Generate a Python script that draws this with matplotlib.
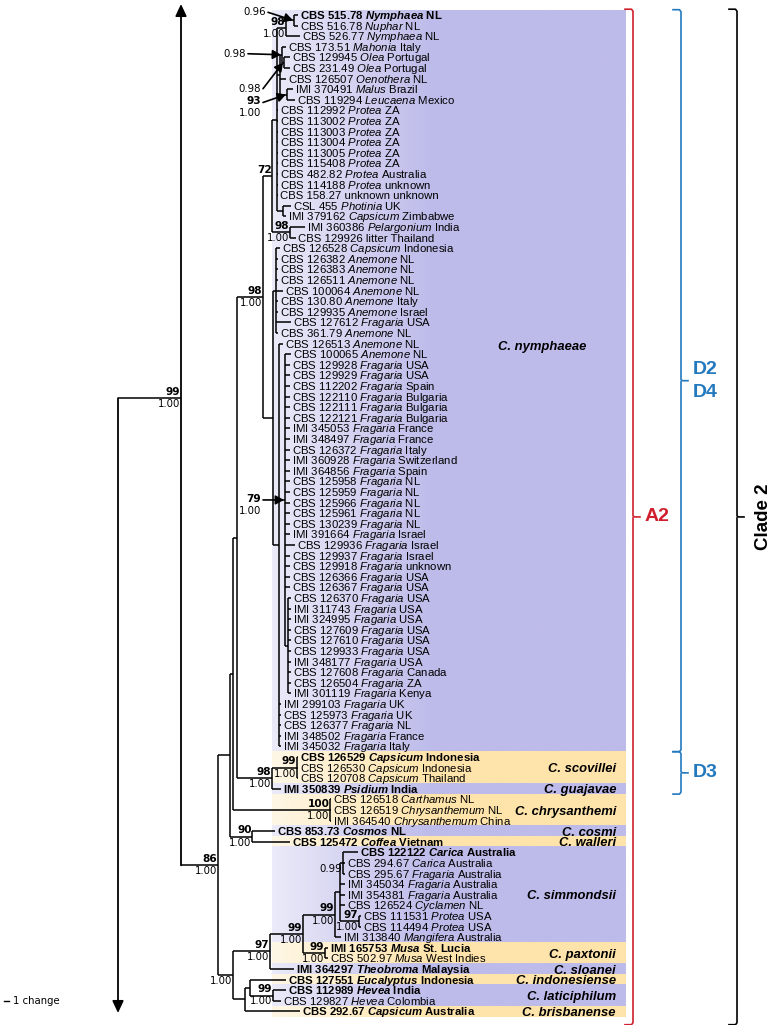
import matplotlib
matplotlib.use("Agg")
import matplotlib.pyplot as plt
import numpy as np
from matplotlib.colors import to_rgb

plt.rcParams["mathtext.fontset"] = "custom"
plt.rcParams["mathtext.rm"] = "Liberation Sans"
plt.rcParams["mathtext.it"] = "Liberation Sans:italic"
plt.rcParams["mathtext.bf"] = "Liberation Sans:bold"
HAS_BFIT = "mathtext.bfit" in plt.rcParams
if HAS_BFIT:
    plt.rcParams["mathtext.bfit"] = "Liberation Sans:bold:italic"

# ---------------- data: tips ----------------
strains = [
    "CBS 515.78", "CBS 516.78", "CBS 526.77", "CBS 173.51", "CBS 129945", "CBS 231.49",
    "CBS 126507", "IMI 370491", "CBS 119294", "CBS 112992", "CBS 113002", "CBS 113003",
    "CBS 113004", "CBS 113005", "CBS 115408", "CBS 482.82", "CBS 114188", "CBS 158.27",
    "CSL 455", "IMI 379162", "IMI 360386", "CBS 129926", "CBS 126528", "CBS 126382",
    "CBS 126383", "CBS 126511", "CBS 100064", "CBS 130.80", "CBS 129935", "CBS 127612",
    "CBS 361.79", "CBS 126513", "CBS 100065", "CBS 129928", "CBS 129929", "CBS 112202",
    "CBS 122110", "CBS 122111", "CBS 122121", "IMI 345053", "IMI 348497", "CBS 126372",
    "IMI 360928", "IMI 364856", "CBS 125958", "CBS 125959", "CBS 125966", "CBS 125961",
    "CBS 130239", "IMI 391664", "CBS 129936", "CBS 129937", "CBS 129918", "CBS 126366",
    "CBS 126367", "CBS 126370", "IMI 311743", "IMI 324995", "CBS 127609", "CBS 127610",
    "CBS 129933", "IMI 348177", "CBS 127608", "CBS 126504", "IMI 301119", "IMI 299103",
    "CBS 125973", "CBS 126377", "IMI 348502", "IMI 345032", "CBS 126529", "CBS 126530",
    "CBS 120708", "IMI 350839", "CBS 126518", "CBS 126519", "IMI 364540", "CBS 853.73",
    "CBS 125472", "CBS 122122", "CBS 294.67", "CBS 295.67", "IMI 345034", "IMI 354381",
    "CBS 126524", "CBS 111531", "CBS 114494", "IMI 313840", "IMI 165753", "CBS 502.97",
    "IMI 364297", "CBS 127551", "CBS 112989", "CBS 129827", "CBS 292.67",
]
hosts = (
    ["Nymphaea", "Nuphar", "Nymphaea", "Mahonia", "Olea", "Olea", "Oenothera", "Malus",
     "Leucaena"] + ["Protea"] * 8 + ["unknown", "Photinia", "Capsicum", "Pelargonium",
     "litter", "Capsicum"] + ["Anemone"] * 6 + ["Fragaria", "Anemone", "Anemone", "Anemone"]
    + ["Fragaria"] * 37 + ["Capsicum"] * 3 + ["Psidium", "Carthamus", "Chrysanthemum",
     "Chrysanthemum", "Cosmos", "Coffea", "Carica", "Carica", "Fragaria", "Fragaria",
     "Fragaria", "Cyclamen", "Protea", "Protea", "Mangifera", "Musa", "Musa", "Theobroma",
     "Eucalyptus", "Hevea", "Hevea", "Capsicum"]
)
countries = [
    "NL", "NL", "NL", "Italy", "Portugal", "Portugal", "NL", "Brazil", "Mexico",
    "ZA", "ZA", "ZA", "ZA", "ZA", "ZA", "Australia", "unknown", "unknown", "UK", "Zimbabwe",
    "India", "Thailand", "Indonesia", "NL", "NL", "NL", "NL", "Italy", "Israel", "USA", "NL",
    "NL", "NL", "USA", "USA", "Spain", "Bulgaria", "Bulgaria", "Bulgaria", "France", "France",
    "Italy", "Switzerland", "Spain", "NL", "NL", "NL", "NL", "NL", "Israel", "Israel", "Israel",
    "unknown", "USA", "USA", "USA", "USA", "USA", "USA", "USA", "USA", "USA", "Canada", "ZA",
    "Kenya", "UK", "UK", "NL", "France", "Italy", "Indonesia", "Indonesia", "Thailand",
    "India", "NL", "NL", "China", "NL", "Vietnam", "Australia", "Australia", "Australia",
    "Australia", "Australia", "NL", "USA", "USA", "Australia", "St. Lucia", "West Indies",
    "Malaysia", "Indonesia", "India", "Colombia", "Australia",
]
bold_tips = [0, 70, 73, 77, 78, 79, 88, 90, 91, 92, 94]
plain_hosts = ["unknown", "litter"]
# branch end of each tip (in the tree's own horizontal scale)
tip_x = ([298, 298, 300, 286, 290, 290, 286, 293, 295] + [278] * 9
         + [291, 286, 305, 296, 280, 278, 278, 278, 283, 278, 278, 291, 278, 283, 291]
         + [290] * 17 + [295] + [290] * 4 + [291] * 10 + [281] * 5
         + [298, 298, 298, 281, 331, 331, 331, 275, 290, 358, 345, 345, 345, 345, 345,
            361, 361, 341, 328, 328, 294, 286, 286, 281, 300])

# ---------------- data: internal nodes (x, children) ----------------
tree = {
    "N1": (294, [0, 1]),
    "NYM": (286, ["N1", 2]),
    "O": (284, [4, 5]),
    "M1": (282, [3, "O"]),
    "L": (287, [7, 8]),
    "M": (280, ["M1", 6, "L"]),
    "P": (283, [18, 19]),
    "Q": (277, ["NYM", "M"] + list(range(9, 18)) + ["P"]),
    "PL": (290, [20, 21]),
    "N72": (272, ["Q", "PL"]),
    "AN": (276, list(range(22, 31))),
    "FRU": (288, list(range(55, 65))),
    "FR2": (285, list(range(32, 55)) + ["FRU"]),
    "FR": (279, [31, "FR2"] + list(range(65, 70))),
    "F": (273, ["AN", "FR"]),
    "N98b": (263, ["N72", "F"]),
    "SC": (297, [70, 71, 72]),
    "SG": (272, ["SC", 73]),
    "G": (237, ["N98b", "SG"]),
    "CH": (330, [74, 75, 76]),
    "H": (233, ["G", "CH"]),
    "CW": (252, [77, 78]),
    "I": (230, ["H", "CW"]),
    "C2": (343, [79, 80, 81]),
    "S97": (359, [85, 86]),
    "C": (340, ["C2", 82, 83, 84, "S97"]),
    "S": (335, ["C", 87]),
    "PAX": (325, [88, 89]),
    "N99a": (303, ["S", "PAX"]),
    "N97": (270, ["N99a", 90]),
    "LAT": (273, [92, 93]),
    "E": (250, [91, "LAT"]),
    "NB2": (245, ["E", 94]),
    "NB": (233, ["N97", "NB2"]),
    "N86": (218, ["I", "NB"]),
    "N99": (181, ["UP", "N86"]),
    "ROOT": (118, ["N99", "DOWN"]),
}
offpage_y = {"UP": -69, "DOWN": 1100}

support = {
    "NYM": ("98", "1.00"), "PL": ("98", "1.00"), "N72": ("72", ""), "N98b": ("98", "1.00"),
    "SC": ("99", "1.00"), "SG": ("98", "1.00"), "CH": ("100", "1.00"), "CW": ("90", "1.00"),
    "N86": ("86", "1.00"), "N99": ("99", "1.00"), "C2": ("", "0.99"), "S97": ("97", "1.00"),
    "S": ("99", "1.00"), "PAX": ("99", "1.00"), "N99a": ("99", "1.00"), "N97": ("97", "1.00"),
    "LAT": ("99", "1.00"), "NB": ("", "1.00"),
}
# supports shown with a pointer arrow: (bootstrap, posterior, text dx, text dy)
arrow_support = {
    "N1": ("", "0.96", -26, -8),
    "M1": ("", "0.98", -34, -1),
    "O": ("", "0.98", -21, 26),
    "L": ("93", "1.00", -24, 8),
    "FR2": ("79", "1.00", -22, 0),
}

species = ["C. nymphaeae", "C. scovillei", "C. guajavae", "C. chrysanthemi", "C. cosmi",
           "C. walleri", "C. simmondsii", "C. paxtonii", "C. sloanei", "C. indonesiense",
           "C. laticiphilum", "C. brisbanense"]
species_first = [0, 70, 73, 74, 77, 78, 79, 88, 90, 91, 92, 94]
species_last = [69, 72, 73, 76, 77, 78, 87, 89, 90, 91, 93, 94]
species_shade = ["lav", "yel", "lav", "yel", "lav", "yel", "lav", "yel", "lav", "yel", "lav", "yel"]

brackets = [  # label, first tip, last tip, colour key
    ("A2", 0, 94, "red"),
    ("D2\nD4", 0, 69, "blue"),
    ("D3", 70, 73, "blue"),
    ("Clade 2", 0, 94, "black"),
]

# ---------------- layout ----------------
W, H = 781, 1025
ROW0, ROW = 15.0, 10.6
tip_y = [ROW0 + ROW * i for i in range(len(strains))]
TOP_ARROW, BOTTOM_ARROW = 4, 1013
BAND_X0, BAND_X1 = 272, 626
SHADES = {"lav": to_rgb("#BDBBEA"), "yel": to_rgb("#FEE4AA")}
BR_COL = {"red": "#D0202E", "blue": "#2379BE", "black": "black"}
BR_X = {"A2": 633, "D2\nD4": 681, "D3": 681, "Clade 2": 737}

fig = plt.figure(figsize=(W / 100, H / 100), dpi=100)
ax = fig.add_axes([0, 0, 1, 1])
ax.set_xlim(0, W)
ax.set_ylim(H, 0)
ax.axis("off")

# ---- coloured species bands with a light left-hand gradient ----
xs = np.linspace(BAND_X0, BAND_X1, 300)
alpha = 0.3 + 0.7 * np.clip((xs - BAND_X0) / 160.0, 0, 1)
for sp, f, l, sh in zip(species, species_first, species_last, species_shade):
    c = np.array(SHADES[sh])
    row = (1 - alpha)[:, None] * 1.0 + alpha[:, None] * c[None, :]
    img = np.repeat(row[None, :, :], 2, axis=0)
    y0 = tip_y[f] - ROW / 2
    y1 = tip_y[l] + ROW / 2
    ax.imshow(img, extent=[BAND_X0, BAND_X1, y1, y0], aspect="auto", zorder=0,
              interpolation="bilinear")
ax.set_xlim(0, W)
ax.set_ylim(H, 0)

# species labels
label_right = {"C. nymphaeae": 586}
label_row = {"C. nymphaeae": 31.2}
for sp, f, l in zip(species, species_first, species_last):
    r = label_row.get(sp, (f + l) / 2)
    yc = ROW0 + ROW * r
    ax.text(label_right.get(sp, 616), yc + 4.6, sp, ha="right", va="baseline",
            family="Liberation Sans", fontweight="bold", fontstyle="italic", fontsize=9.4,
            zorder=5)

# ---- tree ----
node_y = {}


def ypos(c):
    if isinstance(c, int):
        return tip_y[c]
    if c in offpage_y:
        return offpage_y[c]
    if c not in node_y:
        ys = [ypos(k) for k in tree[c][1]]
        node_y[c] = (ys[0] + ys[-1]) / 2.0
    return node_y[c]


def xpos(c):
    if isinstance(c, int):
        return tip_x[c]
    return tree[c][0]


LW = 1.1
for name, (x, kids) in tree.items():
    ys = [ypos(k) for k in kids]
    y0, y1 = min(ys), max(ys)
    if y0 < TOP_ARROW:
        ax.annotate("", xy=(x, TOP_ARROW), xytext=(x, y1),
                    arrowprops=dict(arrowstyle="-|>,head_length=0.6,head_width=0.28",
                                    color="black", lw=1.3, mutation_scale=12,
                                    shrinkA=0, shrinkB=0))
    elif y1 > BOTTOM_ARROW:
        ax.annotate("", xy=(x, BOTTOM_ARROW), xytext=(x, y0),
                    arrowprops=dict(arrowstyle="-|>,head_length=0.6,head_width=0.28",
                                    color="black", lw=1.3, mutation_scale=12,
                                    shrinkA=0, shrinkB=0))
    else:
        ax.plot([x, x], [y0, y1], color="black", lw=LW, solid_capstyle="butt", zorder=3)
    for k in kids:
        if k in offpage_y:
            continue
        xk = xpos(k)
        if xk > x:
            yk = ypos(k)
            ax.plot([x, xk], [yk, yk], color="black", lw=LW, solid_capstyle="butt", zorder=3)

# support values
SUP_FONT = "DejaVu Sans"
for name, (bs, pp) in support.items():
    x = tree[name][0] - 0.5
    y = ypos(name)
    if bs:
        ax.text(x, y - 1.2, bs, ha="right", va="bottom", family=SUP_FONT,
                fontweight="bold", fontsize=7.6, zorder=6)
    if pp:
        ax.text(x, y + 1.0, pp, ha="right", va="top", family=SUP_FONT,
                fontsize=7.3, zorder=6)

for name, (bs, pp, dx, dy) in arrow_support.items():
    x = tree[name][0]
    y = ypos(name)
    tx, ty = x + dx, y + dy
    if bs:
        ax.text(tx - 2, ty + 4, bs, ha="right", va="bottom", family=SUP_FONT,
                fontweight="bold", fontsize=7.6, zorder=6)
        ax.text(tx - 2, ty + 6, pp, ha="right", va="top", family=SUP_FONT,
                fontsize=7.3, zorder=6)
    else:
        ax.text(tx - 2, ty, pp, ha="right", va="center", family=SUP_FONT,
                fontsize=7.3, zorder=6)
    ax.annotate("", xy=(x - 1, y), xytext=(tx, ty),
                arrowprops=dict(arrowstyle="-|>,head_length=0.55,head_width=0.3",
                                color="black", lw=1.2, mutation_scale=9,
                                shrinkA=0, shrinkB=0), zorder=7)

# tip labels
for i, (s, h, c) in enumerate(zip(strains, hosts, countries)):
    bold = i in bold_tips
    if h in plain_hosts:
        hs = h
    elif bold and HAS_BFIT:
        hs = r"$\mathbfit{" + h + "}$"
    else:
        hs = r"$\mathit{" + h + "}$"
    txt = s + " " + hs + " " + c
    ax.text(tip_x[i] + 2, tip_y[i] + 4, txt, ha="left", va="baseline",
            family="Liberation Sans", fontweight="bold" if bold else "normal",
            fontsize=8.2, zorder=5)

# ---- right-hand brackets ----
for lab, f, l, col in brackets:
    colr = BR_COL[col]
    x = BR_X[lab]
    y0 = tip_y[f] - ROW / 2 - (0.5 if col != "blue" else 0)
    y1 = tip_y[l] + ROW / 2 + (8 if lab in ("A2", "Clade 2") else 0)
    ym = (y0 + y1) / 2
    ax.plot([x - 8, x - 1.5, x, x, x + 1.5, x + 7], [y0, y0, y0 + 2, ym - 1, ym, ym],
            color=colr, lw=1.2, zorder=4)
    ax.plot([x - 8, x - 1.5, x, x], [y1, y1, y1 - 2, ym + 1], color=colr, lw=1.2, zorder=4)
    if lab == "Clade 2":
        ax.text(x + 26, ym, lab, rotation=90, ha="center", va="center",
                family="Liberation Sans", fontweight="bold", fontsize=13.5, color=colr)
    else:
        ax.text(x + 12, ym, lab, ha="left", va="center", family="Liberation Sans",
                fontweight="bold", fontsize=14, color=colr, linespacing=1.45)

# scale bar
ax.plot([4, 8.5], [1001, 1001], color="black", lw=1.0)
ax.text(13, 1001, "1 change", ha="left", va="center", family="DejaVu Sans", fontsize=7.3)

fig.savefig("out.png", dpi=100)
